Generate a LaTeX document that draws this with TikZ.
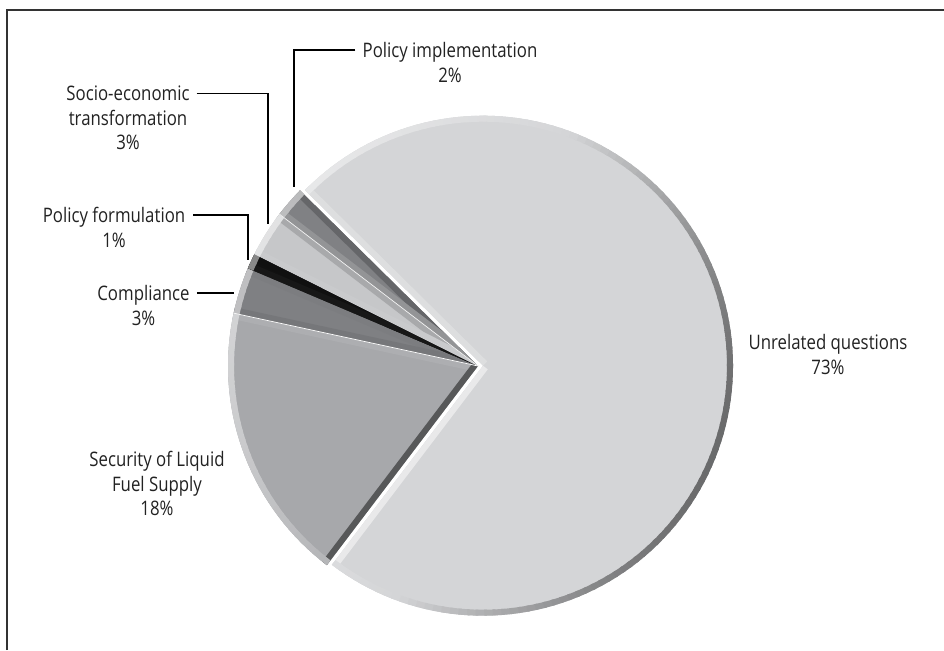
\documentclass[tikz,border=0pt]{standalone}
\usepackage{fontspec}
\setmainfont{Open Sans}[FakeStretch=0.84]
\definecolor{cUnrel}{HTML}{D4D5D7}
\definecolor{cSec}{HTML}{A7A8AB}
\definecolor{cComp}{HTML}{7F8083}
\definecolor{cForm}{HTML}{111111}
\definecolor{cSocio}{HTML}{C6C7C9}
\definecolor{cImpl}{HTML}{808184}
\definecolor{txt}{HTML}{222222}
\def\R{250}
\newcommand\bevelcolor[2]{%
  \pgfmathsetmacro\bk{cos((#1)-160)}%
  \pgfmathsetmacro\pw{100-max(0,\bk)*50}%
  \pgfmathsetmacro\pb{100-max(0,-\bk)*50}%
  \colorlet{bevcol}{#2!\pw!white!\pb!black}}
\newcommand\pieslice[4]{%
  \begin{scope}[shift={#4}]
    \fill[#3] (0,0) -- ({#1}:\R) arc[start angle={#1},end angle={#2},radius=\R] -- cycle;
    \begin{scope}
      \clip (0,0) -- ({#1}:\R) arc[start angle={#1},end angle={#2},radius=\R] -- cycle;
      \bevelcolor{#1-90}{#3}\draw[line width=12, draw=bevcol] (0,0) -- ({#1}:{\R+10});
      \bevelcolor{#2+90}{#3}\draw[line width=12, draw=bevcol] (0,0) -- ({#2}:{\R+10});
      \pgfmathsetmacro\span{(#2)-(#1)}
      \pgfmathtruncatemacro\nseg{max(2,ceil(\span/2))}
      \pgfmathsetmacro\stp{\span/\nseg}
      \foreach \i in {1,...,\nseg}{
        \pgfmathsetmacro\aa{(#1)+(\i-1)*\stp}
        \pgfmathsetmacro\ab{\aa+\stp}
        \pgfmathsetmacro\am{\aa+\stp/2}
        \bevelcolor{\am}{#3}
        \draw[line width=12, draw=bevcol] ({\aa-0.3}:\R) arc[start angle={\aa-0.3}, end angle={\ab+0.3}, radius=\R];
      }
    \end{scope}
  \end{scope}}
\tikzset{
  lbl/.style={font={\fontsize{20}{24.7}\selectfont}, text=txt, align=center, inner sep=0pt, anchor=north},
  leader/.style={draw=black, line width=1.3pt},
  frame/.style={draw=black!80, line width=2pt}
}
\begin{document}
\begin{tikzpicture}[x=1pt,y=1pt]
\useasboundingbox (0,0) rectangle (944,650);
\draw[frame] (7,0) -- (7,640) -- (944,640);
% pie slices, centre (478,284)
\begin{scope}[shift={(478,284)}]
  \pieslice{167.8}{232.8}{cSec}{(0,0)}
  \pieslice{157.0}{167.8}{cComp}{(0,0)}
  \pieslice{153.4}{157.0}{cForm}{(0,0)}
  \pieslice{142.6}{153.4}{cSocio}{(0,0)}
  \pieslice{135.4}{142.6}{cImpl}{(0,0)}
  \draw[white, line width=0.7pt] (0,0) -- (167.8:\R);
  \draw[white!80!cSocio, line width=0.7pt] (0,0) -- (142.6:\R);
  \pieslice{-127.2}{135.4}{cUnrel}{(5,0.3)}
\end{scope}
% labels
\node[lbl] (impl) at (450,608) {Policy implementation\\2\%};
\node[lbl] (socio) at (128,564.5) {Socio-economic\\transformation\\3\%};
\node[lbl] (form) at (114,443) {Policy formulation\\1\%};
\node[lbl] (compl) at (143.5,365) {Compliance\\3\%};
\node[lbl] (sec) at (157,199) {Security of Liquid\\Fuel Supply\\18\%};
\node[lbl] (unrel) at (828,316) {Unrelated questions\\73\%};
% leader ends on the pie edge
\coordinate (implEnd) at (294,463);
\coordinate (socioEnd) at (268,426);
\coordinate (formEnd) at (248,390);
\coordinate (complEnd) at (234,357);
\draw[leader] ([xshift=-7,yshift=-8]impl.north west) -| (implEnd);
\draw[leader] ([xshift=7,yshift=-8]socio.north east) -| (socioEnd);
\draw[leader] ([xshift=8,yshift=-8]form.north east) -| (formEnd);
\draw[leader] ([xshift=7,yshift=-8]compl.north east) -- (complEnd);
\end{tikzpicture}
\end{document}
